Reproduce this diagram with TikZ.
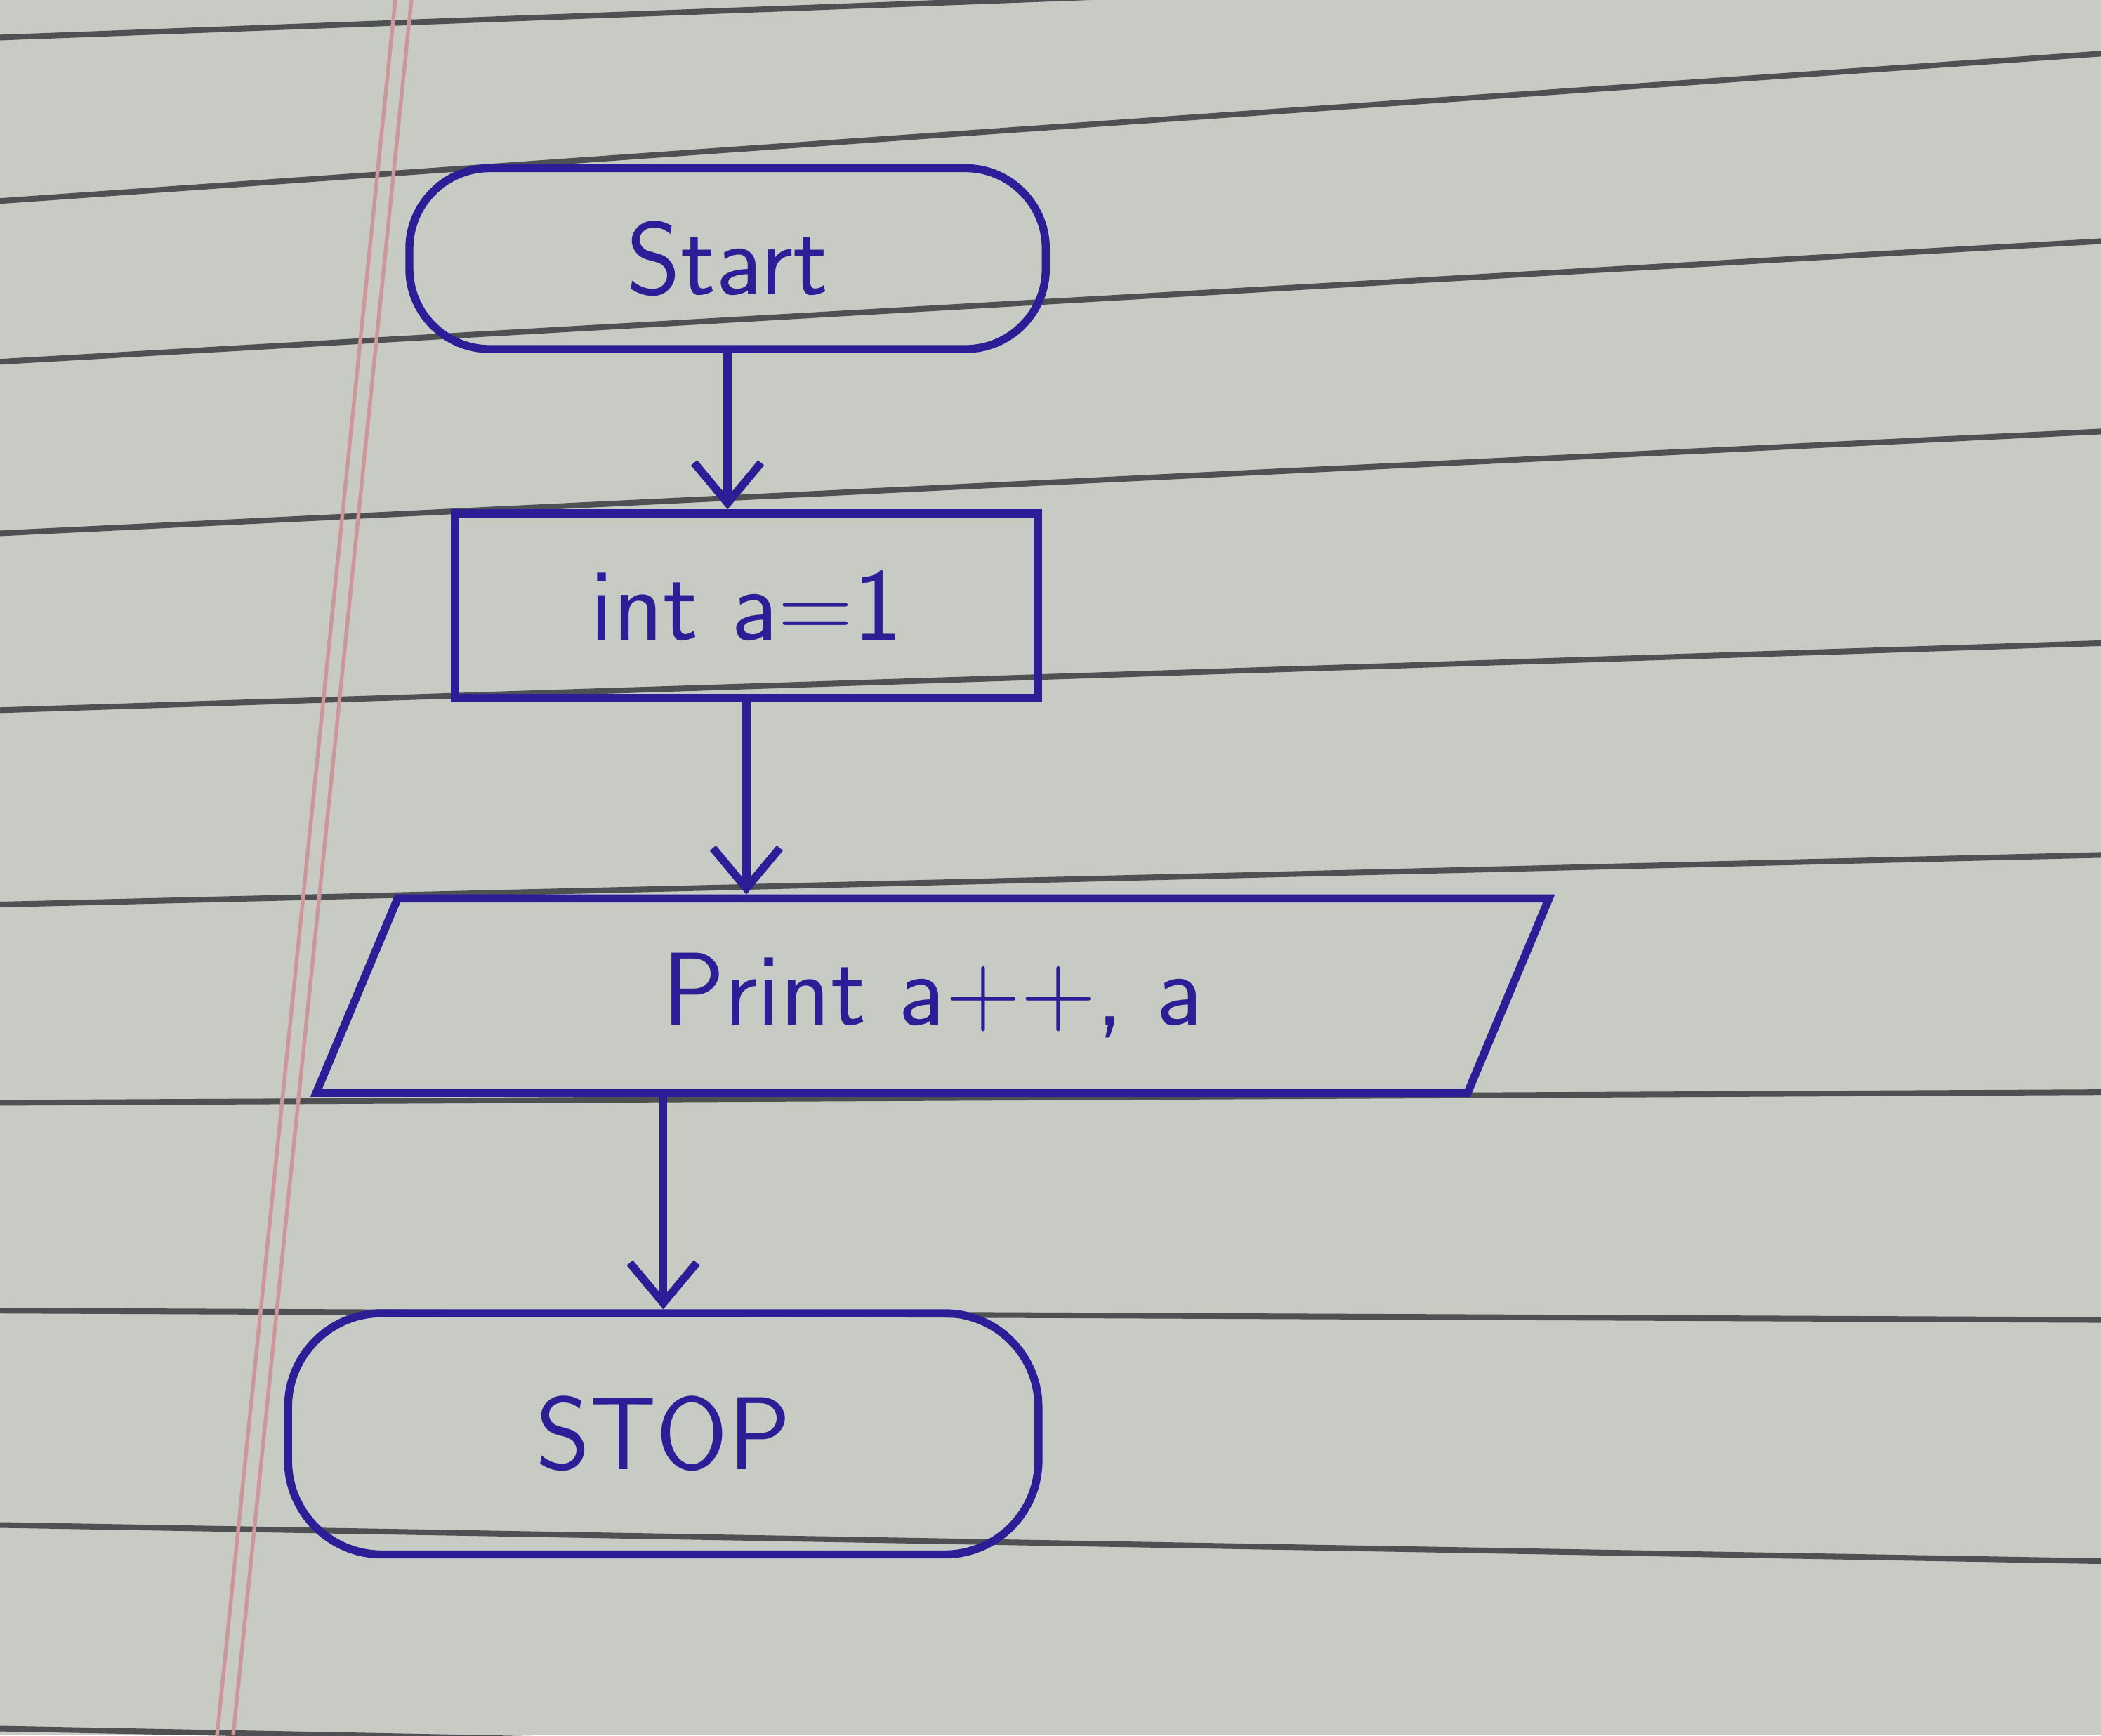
\documentclass[tikz,border=0pt]{standalone}
\usetikzlibrary{shapes.geometric,arrows.meta}
\definecolor{ink}{RGB}{44,30,150}
\definecolor{paper}{RGB}{200,202,196}
\definecolor{ruling}{RGB}{78,80,82}
\definecolor{marginred}{RGB}{205,150,155}
\tikzset{
  inkline/.style={draw=ink,line width=1.7pt},
  flowtext/.style={text=ink,font=\sffamily\fontsize{22}{26}\selectfont},
  terminal/.style={inkline,flowtext,rectangle,rounded corners=0.6cm},
  process/.style={inkline,flowtext,rectangle,minimum width=4.35cm,minimum height=1.38cm},
  io/.style={inkline,flowtext,trapezium,trapezium left angle=55,trapezium right angle=125,
    trapezium stretches body,minimum width=9.2cm,minimum height=1.45cm},
  flowarrow/.style={draw=ink,line width=1.7pt,-{Straight Barb[length=3mm,width=5mm]}}
}
\begin{document}
\begin{tikzpicture}
  % lined paper
  \fill[paper] (0,0) rectangle (15.68,12.95);
  \useasboundingbox (0,0) rectangle (15.68,12.95);
  \begin{scope}
    \clip (0,0) rectangle (15.68,12.95);
    \foreach \yl/\yr in {12.67/13.25,11.45/12.55,10.25/11.15,8.97/9.73,7.65/8.15,6.20/6.57,4.72/4.80,3.17/3.10,1.57/1.30,0.05/-0.25}
      \draw[ruling,line width=1.2pt] (0,\yl) -- (15.68,\yr);
    \draw[marginred,line width=0.8pt] (2.95,12.95) -- (1.62,0);
    \draw[marginred,line width=0.8pt] (3.07,12.95) -- (1.74,0);
  \end{scope}

  % flowchart
  \node[terminal,minimum width=4.75cm,minimum height=1.35cm] (start) at (5.43,11.02) {Start};
  \node[process] (init) at (5.57,8.43) {int a=1};
  \node[io] (print) at (6.96,5.52) {Print a++, a};
  \node[terminal,rounded corners=0.7cm,minimum width=5.6cm,minimum height=1.8cm] (stop) at (4.95,2.25) {STOP};

  \draw[flowarrow] (start.south) -- (start.south |- init.north);
  \draw[flowarrow] (init.south) -- (init.south |- print.north);
  \draw[flowarrow] (stop.north |- print.south) -- (stop.north);
\end{tikzpicture}
\end{document}
